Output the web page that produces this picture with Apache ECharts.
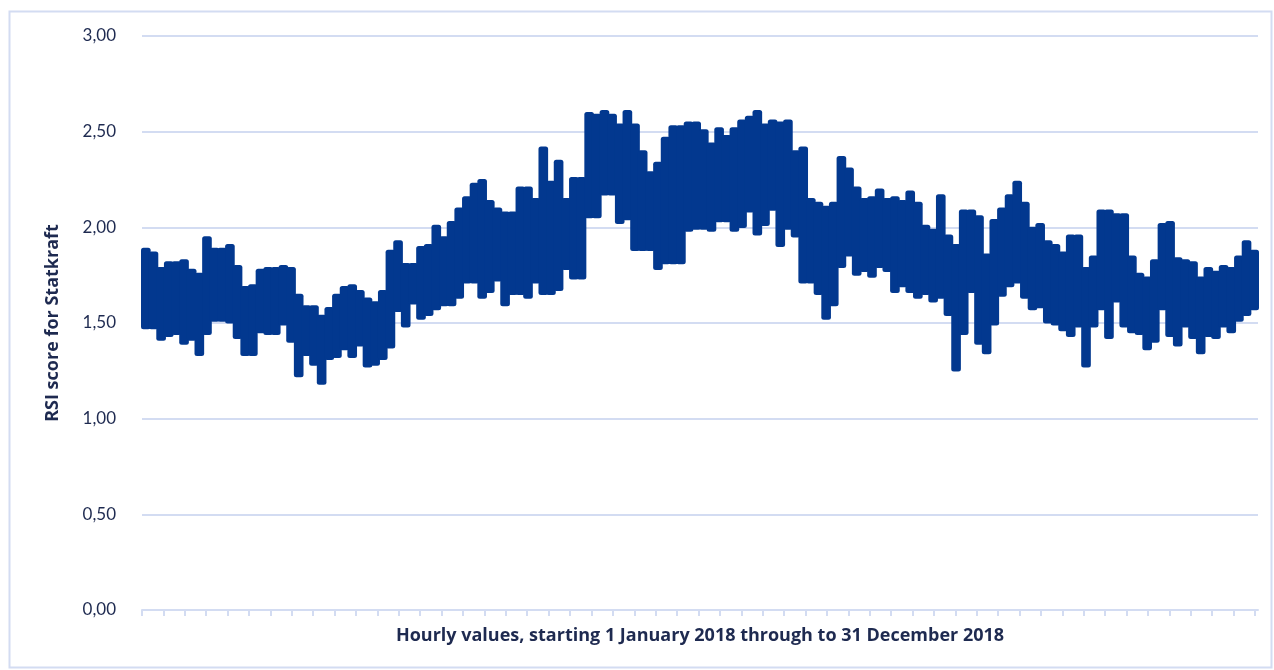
<!DOCTYPE html>
<html>
<head>
<meta charset="utf-8">
<title>RSI score for Statkraft</title>
<script src="https://cdn.jsdelivr.net/npm/echarts@6/dist/echarts.min.js"></script>
<style>
  html, body { margin: 0; padding: 0; background: #ffffff; }
  #chart { width: 1274px; height: 670px; }
</style>
</head>
<body>
<div id="chart"></div>
<script>
// Hourly RSI score, 2018, summarised as 146 blocks of 60 hours:
// the highest and the lowest hourly score within each block.
const hoursInYear = 8760;
const blockHours = 60;

const blockHighs = [
  1.88, 1.86, 1.78, 1.81, 1.81, 1.82, 1.77, 1.75, 1.94, 1.88,
  1.88, 1.90, 1.79, 1.68, 1.69, 1.77, 1.78, 1.78, 1.79, 1.78,
  1.64, 1.58, 1.58, 1.53, 1.57, 1.64, 1.68, 1.69, 1.66, 1.62,
  1.60, 1.66, 1.87, 1.92, 1.80, 1.80, 1.89, 1.90, 2.00, 1.94,
  2.02, 2.09, 2.15, 2.22, 2.24, 2.13, 2.09, 2.07, 2.07, 2.20,
  2.20, 2.14, 2.41, 2.23, 2.34, 2.14, 2.25, 2.25, 2.59, 2.58,
  2.60, 2.58, 2.53, 2.60, 2.53, 2.39, 2.28, 2.33, 2.46, 2.52,
  2.52, 2.54, 2.54, 2.50, 2.43, 2.51, 2.47, 2.51, 2.55, 2.57,
  2.60, 2.53, 2.55, 2.54, 2.55, 2.39, 2.41, 2.14, 2.12, 2.10,
  2.12, 2.36, 2.30, 2.20, 2.14, 2.15, 2.19, 2.14, 2.15, 2.13,
  2.18, 2.12, 2.00, 1.98, 2.16, 1.95, 1.90, 2.08, 2.08, 2.05,
  1.85, 2.03, 2.09, 2.16, 2.23, 2.12, 1.99, 2.01, 1.92, 1.90,
  1.86, 1.95, 1.95, 1.78, 1.84, 2.08, 2.08, 2.06, 2.06, 1.84,
  1.75, 1.73, 1.82, 2.01, 2.02, 1.83, 1.82, 1.81, 1.73, 1.78,
  1.76, 1.79, 1.78, 1.84, 1.92, 1.87
];

const blockLows = [
  1.48, 1.48, 1.42, 1.44, 1.45, 1.40, 1.42, 1.34, 1.45, 1.52,
  1.52, 1.51, 1.43, 1.34, 1.34, 1.46, 1.45, 1.45, 1.50, 1.41,
  1.23, 1.34, 1.29, 1.19, 1.32, 1.33, 1.37, 1.33, 1.39, 1.28,
  1.29, 1.32, 1.38, 1.57, 1.49, 1.61, 1.53, 1.55, 1.58, 1.60,
  1.60, 1.64, 1.72, 1.72, 1.64, 1.67, 1.73, 1.60, 1.66, 1.66,
  1.64, 1.72, 1.66, 1.66, 1.68, 1.79, 1.74, 1.74, 2.06, 2.06,
  2.18, 2.18, 2.03, 2.05, 1.89, 1.89, 1.89, 1.79, 1.82, 1.82,
  1.82, 1.99, 2.00, 2.00, 1.99, 2.04, 2.04, 1.99, 2.01, 2.09,
  1.97, 2.02, 2.10, 1.91, 2.00, 1.96, 1.72, 1.72, 1.66, 1.53,
  1.60, 1.80, 1.86, 1.76, 1.78, 1.75, 1.80, 1.78, 1.67, 1.70,
  1.67, 1.64, 1.66, 1.62, 1.64, 1.55, 1.26, 1.45, 1.67, 1.40,
  1.35, 1.50, 1.65, 1.70, 1.72, 1.64, 1.58, 1.59, 1.51, 1.50,
  1.47, 1.44, 1.49, 1.28, 1.49, 1.58, 1.43, 1.62, 1.49, 1.46,
  1.45, 1.37, 1.41, 1.58, 1.44, 1.39, 1.49, 1.43, 1.35, 1.44,
  1.43, 1.49, 1.46, 1.52, 1.55, 1.58
];

// Weekly tick marks along the hour axis
const weekHours = 168;
const weekTicks = [];
for (let h = 0; h <= hoursInYear; h += weekHours) weekTicks.push(h);

const yTicks = { min: 0, max: 3, step: 0.5 };

// One row per block: [first hour, last hour, low, high]
const bandRows = blockHighs.map((hi, k) => [k * blockHours, (k + 1) * blockHours, blockLows[k], hi]);

const ink = '#1E2A50';
const paleBlue = '#D3DCF2';
const lineBlue = '#02388F';
const tickFont = 'Lato, "Open Sans", sans-serif';
const nameFont = '"Open Sans", Lato, sans-serif';

// Each block is the hourly trace swinging between its low and high: a solid
// vertical swath with the heavy, round-ended stroke of the hourly line.
// Neighbouring swaths overlap slightly so the trace reads as one band.
const strokeWidth = 5;
const swathInset = 1.5;
function renderBlock(params, api) {
  const top = api.coord([api.value(0), api.value(3)]);
  const bottom = api.coord([api.value(1), api.value(2)]);
  const x0 = top[0] + swathInset;
  const x1 = Math.max(bottom[0] - swathInset, x0 + 0.5);
  return {
    type: 'polygon',
    shape: { points: [[x0, top[1]], [x1, top[1]], [x1, bottom[1]], [x0, bottom[1]]] },
    style: { fill: lineBlue, stroke: lineBlue, lineWidth: strokeWidth, lineJoin: 'round' },
    silent: true
  };
}

const chart = echarts.init(document.getElementById('chart'), null, { renderer: 'canvas' });
chart.setOption({
  animation: false,
  backgroundColor: '#ffffff',
  graphic: [{
    type: 'rect',
    shape: { x: 9.5, y: 11.5, width: 1262, height: 656 },
    style: { fill: 'none', stroke: paleBlue, lineWidth: 2 },
    silent: true,
    z: -1
  }],
  grid: { left: 142, right: 16, top: 36, bottom: 60 },
  xAxis: {
    type: 'value',
    min: 0,
    max: hoursInYear,
    name: 'Hourly values, starting 1 January 2018 through to 31 December 2018',
    nameLocation: 'middle',
    nameGap: 17,
    nameTextStyle: { color: ink, fontFamily: nameFont, fontSize: 18, fontWeight: 'bold' },
    axisLine: { show: true, lineStyle: { color: paleBlue, width: 2 } },
    axisTick: { show: true, length: 6, customValues: weekTicks, lineStyle: { color: paleBlue, width: 2 } },
    axisLabel: { show: false },
    splitLine: { show: false }
  },
  yAxis: {
    type: 'value',
    min: yTicks.min,
    max: yTicks.max,
    interval: yTicks.step,
    name: 'RSI score for Statkraft',
    nameLocation: 'middle',
    nameRotate: 90,
    nameGap: 80,
    nameTextStyle: { color: ink, fontFamily: nameFont, fontSize: 18, fontWeight: 'bold' },
    axisLine: { show: false },
    axisTick: { show: false },
    axisLabel: {
      color: ink,
      fontFamily: tickFont,
      fontSize: 17,
      margin: 26,
      formatter: v => v.toFixed(2).replace('.', ',')
    },
    splitLine: { show: true, lineStyle: { color: paleBlue, width: 2 } }
  },
  series: [{
    name: 'RSI score',
    type: 'custom',
    renderItem: renderBlock,
    encode: { x: [0, 1], y: [2, 3] },
    data: bandRows,
    silent: true
  }]
});
</script>
</body>
</html>
